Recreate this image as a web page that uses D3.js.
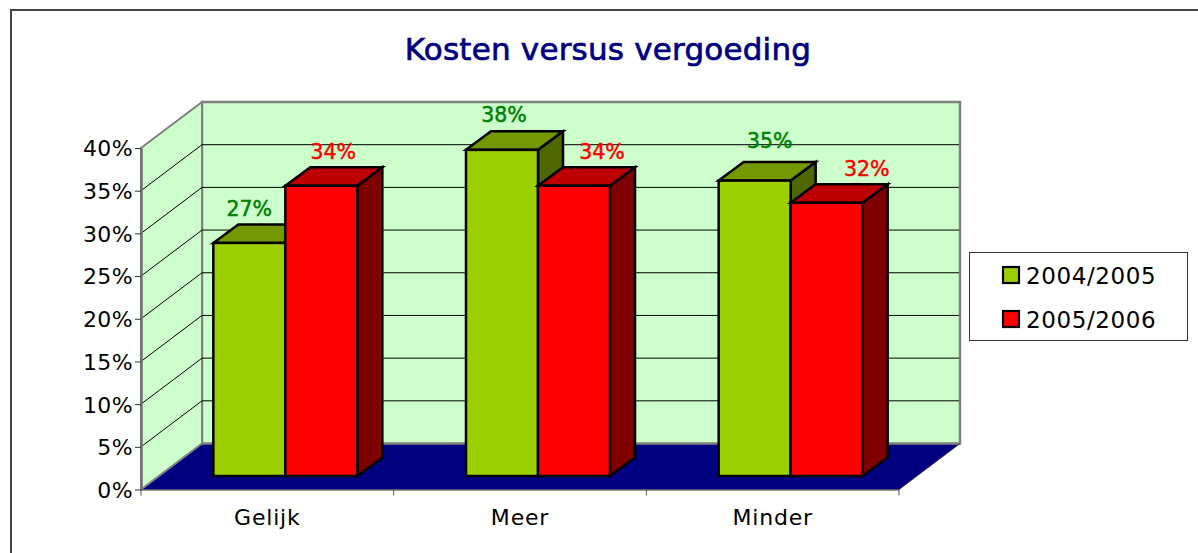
<!DOCTYPE html>
<html><head><meta charset="utf-8">
<script src="https://cdnjs.cloudflare.com/ajax/libs/d3/7.8.5/d3.min.js"></script>
<style>html,body{margin:0;padding:0;background:#fff;overflow:hidden}svg{display:block}text{font-family:"DejaVu Sans",sans-serif}</style>
</head><body><svg id="c" width="1198" height="553"></svg>
<script>
const chartTitle = "Kosten versus vergoeding";
const categories = ["Gelijk", "Meer", "Minder"];
const seriesNames = ["2004/2005", "2005/2006"];
const values2004 = [27.3, 38.2, 34.6];
const values2005 = [34, 34, 32];
const yTicks = [0, 5, 10, 15, 20, 25, 30, 35, 40];

const svg = d3.select("#c");
const colors = [{front:"#9ccf00",top:"#749900",side:"#4e6700",label:"#008000"},
                {front:"#ff0000",top:"#bd0000",side:"#7f0000",label:"#ff0000"}];
// hand-placed data label nudges seen in the reference, by category then series
const labelNudgeX = [[0,12],[2,28],[15,40]];
const labelNudgeY = [[0,0],[-1,0],[-6,0]];
const y = d3.scaleLinear().domain([0,40]).range([489.5,148]);
const x = d3.scaleBand().domain(categories).range([141,899]);
const dx = 61, dy = -46;
const pts = a => a.map(p=>p.join(",")).join(" ");

// outer frame
svg.append("path").attr("d","M11,553V10H1198").attr("fill","none").attr("stroke","#444").attr("stroke-width",2);
svg.append("text").attr("x",608).attr("y",60).attr("text-anchor","middle").attr("font-size",31)
  .attr("letter-spacing",0.2).attr("fill","#000080").attr("stroke","#000080").attr("stroke-width",0.7).text(chartTitle);

// walls
const x0=141,x1=899,yb=y(0),yt=y(40);
svg.append("polygon").attr("points",pts([[x0,yb],[x0+dx,yb+dy],[x1+dx,yb+dy],[x1,yb]])).attr("fill","#000080");
svg.append("polyline").attr("points",pts([[x0+dx,yb+dy],[x0+dx,yt+dy],[x1+dx,yt+dy],[x1+dx,yb+dy],[x0+dx,yb+dy]]))
  .attr("fill","#ccffcc").attr("stroke","#808080").attr("stroke-width",2.5);
svg.append("polygon").attr("points",pts([[x0,yt],[x0+dx,yt+dy],[x0+dx,yb+dy],[x0,yb]])).attr("fill","#ccffcc").attr("stroke","#808080").attr("stroke-width",2);
svg.append("line").attr("x1",x1).attr("y1",yb).attr("x2",x1+dx).attr("y2",yb+dy).attr("stroke","#333").attr("stroke-width",1);

// gridlines
yTicks.slice(1,-1).forEach(t=>{
  svg.append("polyline").attr("fill","none").attr("stroke","#000").attr("stroke-width",1)
    .attr("points",pts([[x0,y(t)],[x0+dx,y(t)+dy],[x1+dx-1,y(t)+dy]]));
});
svg.append("polyline").attr("fill","none").attr("stroke","#000").attr("stroke-width",1)
  .attr("points",pts([[x0+dx,y(40)+dy],[x0+dx,y(40)+dy]]));

// axes
const yAxis = d3.axisLeft(y).tickValues(yTicks).tickFormat(d=>d+"%").tickSize(6).tickSizeOuter(0).tickPadding(2);
const gy = svg.append("g").attr("transform",`translate(${x0},0)`).call(yAxis);
gy.select(".domain").attr("stroke","#707070").attr("stroke-width",2.5);
gy.selectAll(".tick line").attr("stroke","#333");
gy.selectAll("text").attr("font-size",22).attr("letter-spacing",0.4).attr("fill","#000").attr("dy","0.36em");
const xAxis = d3.axisBottom(x).tickSize(6).tickSizeOuter(0).tickPadding(14);
const gx = svg.append("g").attr("transform",`translate(0,${yb})`).call(xAxis);
gx.select(".domain").attr("stroke","#333").attr("stroke-width",1);
gx.selectAll(".tick line").remove();
[0,1,2,3].forEach(i=>gx.append("line").attr("x1",x0+i*x.bandwidth()).attr("x2",x0+i*x.bandwidth()).attr("y1",0).attr("y2",6).attr("stroke","#555"));
gx.selectAll("text").attr("font-size",22).attr("letter-spacing",0.8).attr("fill","#000");

// bars
const barW = 72, ox = 18, oy = -13.5, bdx = 25, bdy = -18.5;
const zero = y(0)+oy;
const scale = v => y(v)+oy;
const rows = categories.map((c,i)=>({c,i,vals:[values2004[i],values2005[i]]}));
rows.forEach(r=>{
  const cx = x(r.c)+x.bandwidth()/2+ox;
  r.vals.forEach((v,s)=>{
    const l=cx-barW+s*barW, rr=l+barW, t=scale(v), col=colors[s];
    const g=svg.append("g").attr("stroke","#000").attr("stroke-width",2.5).attr("stroke-linejoin","miter");
    g.append("polygon").attr("points",pts([[rr,t],[rr+bdx,t+bdy],[rr+bdx,zero+bdy],[rr,zero]])).attr("fill",col.side);
    g.append("polygon").attr("points",pts([[l,t],[l+bdx,t+bdy],[rr+bdx,t+bdy],[rr,t]])).attr("fill",col.top);
    g.append("rect").attr("x",l).attr("y",t).attr("width",barW).attr("height",zero-t).attr("fill",col.front);
  });
});
// labels on top
rows.forEach(r=>{
  const cx = x(r.c)+x.bandwidth()/2+ox;
  r.vals.forEach((v,s)=>{
    svg.append("text").attr("x",cx-barW+s*barW+barW/2+labelNudgeX[r.i][s]).attr("y",scale(v)-27+labelNudgeY[r.i][s]).attr("text-anchor","middle")
      .attr("font-size",20.5).attr("fill",colors[s].label).attr("stroke",colors[s].label).attr("stroke-width",0.5)
      .text(d3.format(".0f")(v)+"%");
  });
});

// legend
svg.append("rect").attr("x",969.5).attr("y",252.5).attr("width",218).attr("height",88).attr("fill","#fff").attr("stroke","#333").attr("stroke-width",1);
seriesNames.forEach((n,i)=>{
  const yy=275+i*44;
  svg.append("rect").attr("x",1003).attr("y",yy-8).attr("width",16).attr("height",16).attr("fill",colors[i].front).attr("stroke","#000").attr("stroke-width",2.2);
  svg.append("text").attr("x",1026).attr("y",yy+9).attr("font-size",23).attr("letter-spacing",0.6).attr("fill","#000").text(n);
});
</script></body></html>
